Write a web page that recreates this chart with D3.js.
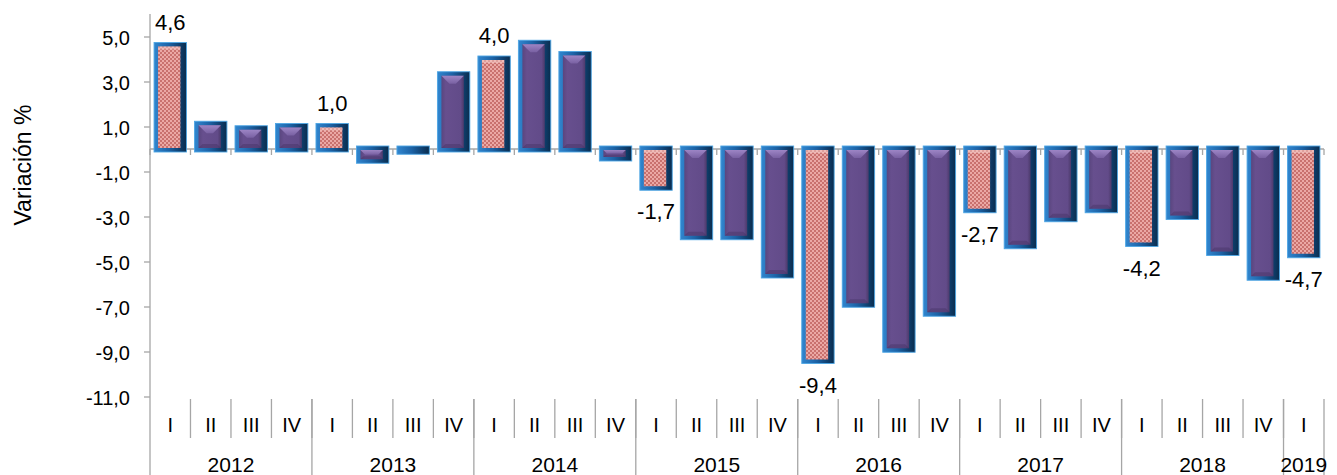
<!DOCTYPE html>
<html>
<head>
<meta charset="utf-8">
<script src="https://cdn.jsdelivr.net/npm/d3@7"></script>
<style>
  html, body { margin: 0; padding: 0; background: #fff; }
  svg { display: block; font-family: "Liberation Sans", Arial, sans-serif; }
</style>
</head>
<body>
<svg id="chart" width="1337" height="475"></svg>
<script>
// ---- data ----
const years = ["2012", "2013", "2014", "2015", "2016", "2017", "2018", "2019"];
const quarters = ["I","II","III","IV","I","II","III","IV","I","II","III","IV","I","II","III","IV",
                  "I","II","III","IV","I","II","III","IV","I","II","III","IV","I"];
const quarterYear = ["2012","2012","2012","2012","2013","2013","2013","2013","2014","2014","2014","2014",
                     "2015","2015","2015","2015","2016","2016","2016","2016","2017","2017","2017","2017",
                     "2018","2018","2018","2018","2019"];
const values = [4.6, 1.1, 0.9, 1.0, 1.0, -0.5, -0.1, 3.3, 4.0, 4.7, 4.2, -0.4,
                -1.7, -3.9, -3.9, -5.6, -9.4, -6.9, -8.9, -7.3, -2.7, -4.3, -3.1, -2.7,
                -4.2, -3.0, -4.6, -5.7, -4.7];
const yTicks = [5, 3, 1, -1, -3, -5, -7, -9, -11];
const yTitle = "Variación %";

// ---- setup ----
const svg = d3.select("#chart");
const pL = 150, pR = 1324, pT = 14, pB = 396.5;
const x = d3.scaleBand().domain(d3.range(values.length)).range([pL, pR])
  .paddingInner(0.2).paddingOuter(0.1);
const step = x.step();
const y = d3.scaleLinear().domain([-11, 6]).range([pB, pT]);
const loc = d3.formatLocale({decimal: ",", thousands: ".", grouping: [3], currency: ["", ""], minus: "-"});
const f1 = loc.format(".1f");

// ---- defs ----
const defs = svg.append("defs");
const pat = defs.append("pattern").attr("id", "dots").attr("patternUnits", "userSpaceOnUse")
  .attr("width", 4).attr("height", 4);
pat.append("rect").attr("width", 4).attr("height", 4).attr("fill", "#eba8a5");
pat.append("rect").attr("x", 0).attr("y", 0).attr("width", 2).attr("height", 2).attr("fill", "#c9716e");
pat.append("rect").attr("x", 2).attr("y", 2).attr("width", 2).attr("height", 2).attr("fill", "#c9716e");

const gFrame = defs.append("linearGradient").attr("id", "frame").attr("x1", 0).attr("x2", 1).attr("y1", 0).attr("y2", 0);
gFrame.append("stop").attr("offset", 0).attr("stop-color", "#3186cf");
gFrame.append("stop").attr("offset", 0.45).attr("stop-color", "#1d63a6");
gFrame.append("stop").attr("offset", 0.8).attr("stop-color", "#0f3f6e");
gFrame.append("stop").attr("offset", 1).attr("stop-color", "#0a2c4d");

const gFace = defs.append("linearGradient").attr("id", "face").attr("x1", 0).attr("x2", 1).attr("y1", 0).attr("y2", 0);
gFace.append("stop").attr("offset", 0).attr("stop-color", "#5a467f");
gFace.append("stop").attr("offset", 0.2).attr("stop-color", "#674f8e");
gFace.append("stop").attr("offset", 0.85).attr("stop-color", "#624b89");
gFace.append("stop").attr("offset", 1).attr("stop-color", "#4c3a6b");

const gTop = defs.append("linearGradient").attr("id", "bevelTop").attr("x1", 0).attr("x2", 0).attr("y1", 0).attr("y2", 1);
gTop.append("stop").attr("offset", 0).attr("stop-color", "#a78fcf");
gTop.append("stop").attr("offset", 1).attr("stop-color", "#7c64a6");

// ---- zero line and its ticks ----
svg.append("line").attr("x1", pL).attr("x2", pR).attr("y1", y(0)).attr("y2", y(0))
  .attr("stroke", "#a6a6a6").attr("stroke-width", 1.3);
svg.append("g").selectAll("line").data(d3.range(values.length + 1)).join("line")
  .attr("x1", i => pL + i * step).attr("x2", i => pL + i * step)
  .attr("y1", y(0)).attr("y2", y(0) + 6)
  .attr("stroke", "#a6a6a6").attr("stroke-width", 1.3);

// ---- bars ----
const ext = 3;
const bars = svg.append("g").selectAll("g").data(values).join("g");
bars.each(function(v, i) {
  const g = d3.select(this);
  const bx = x(i), bw = x.bandwidth();
  const y0 = Math.min(y(0), y(v)) - ext, y1 = Math.max(y(0), y(v)) + ext;
  const bh = y1 - y0;
  g.append("rect").attr("x", bx).attr("y", y0).attr("width", bw).attr("height", bh)
    .attr("fill", "url(#frame)").attr("stroke", "#4ea6e4").attr("stroke-width", 0.9);
  const inL = 4, inR = 6, inT = 4, inB = 4;
  const ix = bx + inL, iw = bw - inL - inR, iy = y0 + inT, ih = bh - inT - inB;
  if (ih > 0.5) {
    const hl = quarters[i] === "I";
    g.append("rect").attr("x", ix).attr("y", iy).attr("width", iw).attr("height", ih)
      .attr("fill", hl ? "url(#dots)" : "url(#face)");
    const k = Math.min(8, ih / 2, iw / 2);
    if (!hl) {
      g.append("path").attr("d", `M${ix},${iy}H${ix + iw}L${ix + iw - k},${iy + k}H${ix + k}Z`)
        .attr("fill", "url(#bevelTop)").attr("opacity", 0.85);
      const kb = Math.min(4, ih / 3);
      g.append("path").attr("d", `M${ix},${iy + ih}H${ix + iw}L${ix + iw - kb},${iy + ih - kb}H${ix + kb}Z`)
        .attr("fill", "#3c2c5a").attr("opacity", 0.35);
    } else {
      g.append("rect").attr("x", ix).attr("y", iy).attr("width", iw).attr("height", Math.min(3, ih))
        .attr("fill", "#f6d0cc").attr("opacity", 0.5);
    }
  }
});

// ---- data labels (first quarter of each year) ----
svg.append("g").selectAll("text").data(values.map((v, i) => ({v, i})).filter(d => quarters[d.i] === "I"))
  .join("text")
  .attr("x", d => x(d.i) + x.bandwidth() / 2)
  .attr("y", d => d.v >= 0 ? y(d.v) - ext - 13 : y(d.v) + ext + 29)
  .attr("text-anchor", "middle")
  .attr("font-size", 22).attr("fill", "#000")
  .text(d => f1(d.v));

// ---- y axis ----
const yAxis = d3.axisLeft(y).tickValues(yTicks).tickFormat(f1).tickSize(6).tickPadding(14);
const ga = svg.append("g").attr("transform", `translate(${pL},0)`).call(yAxis);
ga.select(".domain").remove();
ga.selectAll(".tick line").attr("stroke", "#a6a6a6").attr("stroke-width", 1.3);
ga.selectAll(".tick text").attr("font-size", 20).attr("fill", "#000")
  .attr("font-family", "'Liberation Sans', Arial, sans-serif").attr("dy", "0.4em");
svg.append("line").attr("x1", pL).attr("x2", pL).attr("y1", pT).attr("y2", 475)
  .attr("stroke", "#a6a6a6").attr("stroke-width", 1.3);

svg.append("text").attr("transform", `translate(31,165) rotate(-90)`)
  .attr("text-anchor", "middle").attr("font-size", 23).attr("fill", "#000").text(yTitle);

// ---- category axis ----
const cat = svg.append("g");
cat.selectAll("line.q").data(d3.range(1, values.length)).join("line").attr("class", "q")
  .attr("x1", i => pL + i * step).attr("x2", i => pL + i * step)
  .attr("y1", 399).attr("y2", 438)
  .attr("stroke", "#a6a6a6").attr("stroke-width", 1.3);
const yearStart = years.map(yr => quarterYear.indexOf(yr));
const yearEnd = years.map(yr => quarterYear.lastIndexOf(yr) + 1);
const bounds = Array.from(new Set([...yearStart, ...yearEnd])).filter(b => b > 0);
cat.selectAll("line.yb").data(bounds).join("line").attr("class", "yb")
  .attr("x1", b => pL + b * step).attr("x2", b => pL + b * step)
  .attr("y1", 399).attr("y2", 475)
  .attr("stroke", "#a6a6a6").attr("stroke-width", 1.3);
cat.selectAll("text.q").data(quarters).join("text").attr("class", "q")
  .attr("x", (q, i) => x(i) + x.bandwidth() / 2).attr("y", 432)
  .attr("text-anchor", "middle").attr("font-size", 20).attr("fill", "#000").text(q => q);
cat.selectAll("text.yr").data(years).join("text").attr("class", "yr")
  .attr("x", (yr, j) => pL + (yearStart[j] + yearEnd[j]) / 2 * step).attr("y", 472)
  .attr("text-anchor", "middle").attr("font-size", 21).attr("fill", "#000").text(yr => yr);
</script>
</body>
</html>
